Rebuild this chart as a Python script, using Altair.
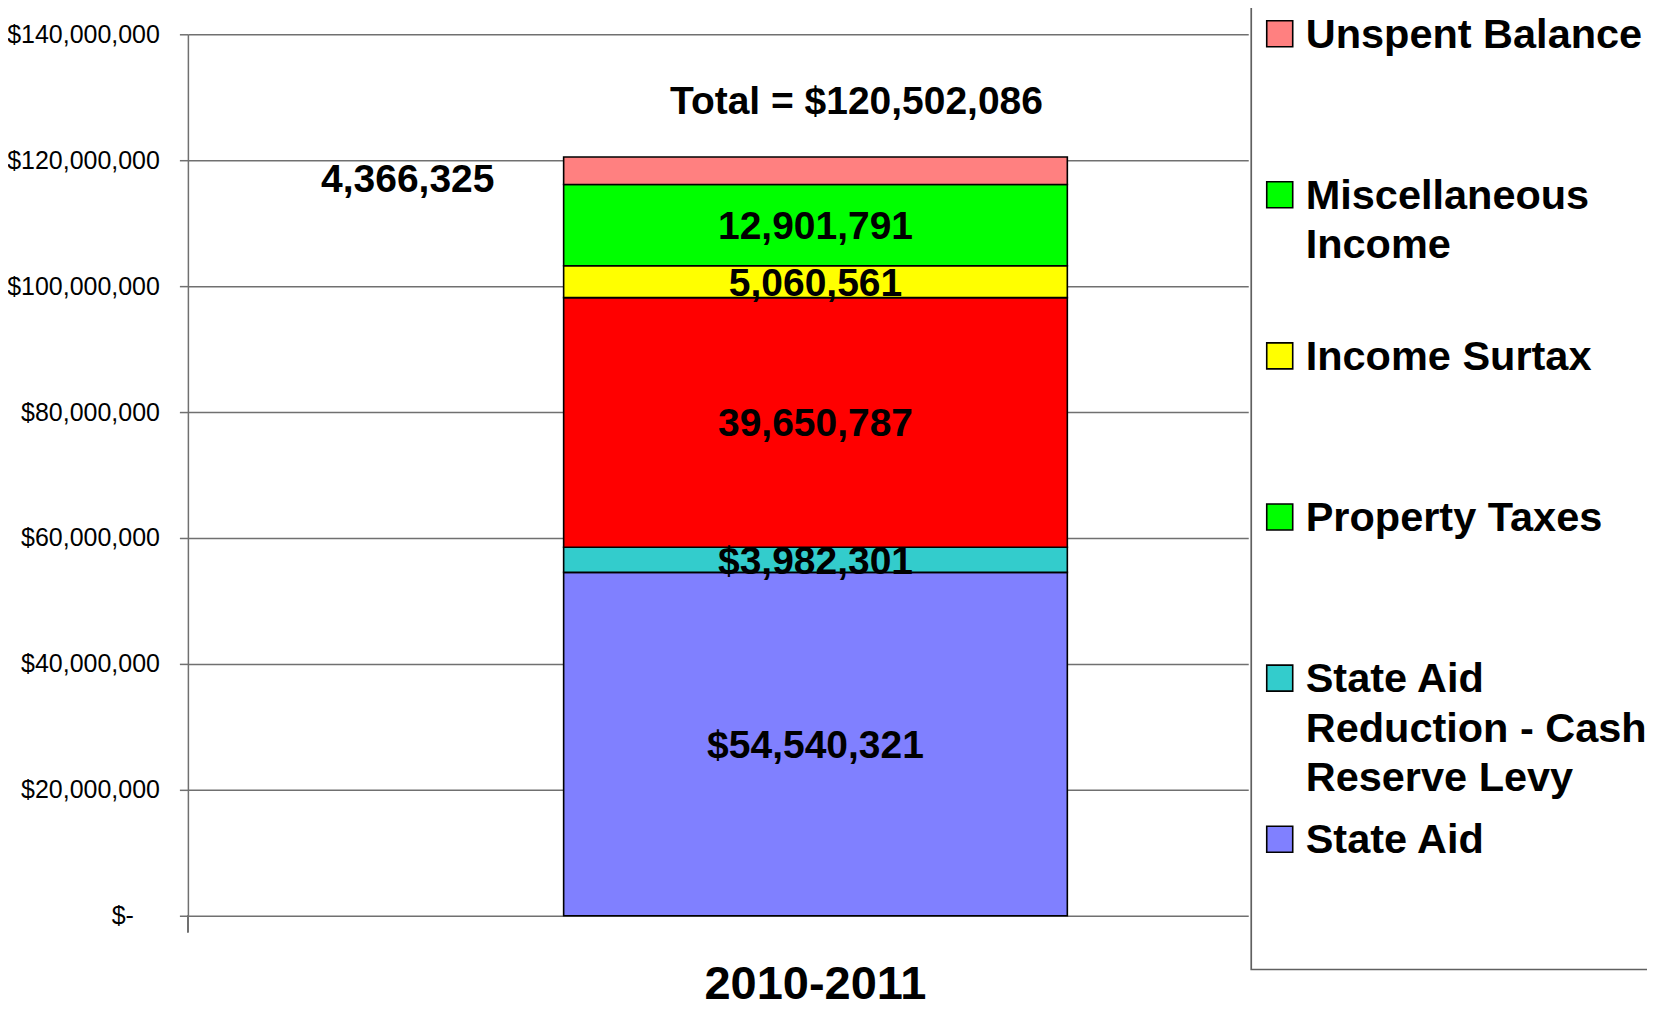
import altair as alt
import pandas as pd

# ---- data (stack order: bottom -> top) ----
year = "2010-2011"
categories = [
    "State Aid",
    "State Aid Reduction - Cash Reserve Levy",
    "Property Taxes",
    "Income Surtax",
    "Miscellaneous Income",
    "Unspent Balance",
]
values = [54540321, 3982301, 39650787, 5060561, 12901791, 4366325]
dollar_flag = [1, 1, 0, 0, 0, 0]
bar_colors = ["#8080FF", "#33CCCC", "#FF0000", "#FFFF00", "#00FF00", "#FF8080"]

# legend (top -> bottom), as drawn in the original
legend_labels = [
    "Unspent Balance",
    "Miscellaneous\nIncome",
    "Income Surtax",
    "Property Taxes",
    "State Aid\nReduction - Cash\nReserve Levy",
    "State Aid",
]
legend_colors = ["#FF8080", "#00FF00", "#FFFF00", "#00FF00", "#33CCCC", "#8080FF"]

y_ticks = [0, 20000000, 40000000, 60000000, 80000000, 100000000, 120000000, 140000000]

FONT = "Liberation Sans"
GRID = "#707070"

df = pd.DataFrame({
    "year": [year] * len(categories),
    "category": categories,
    "value": values,
    "order": list(range(len(categories))),
    "dollar": dollar_flag,
})

x_enc = alt.X(
    "year:N",
    scale=alt.Scale(paddingInner=0, paddingOuter=0.5526, align=0.675),
    axis=alt.Axis(
        title=None, ticks=False, tickSize=0, domain=False, labelAngle=0,
        labelFont=FONT, labelFontSize=47,
        labelFontWeight="bold", labelColor="black", labelBaseline="alphabetic",
        labelPadding=83, labelLimit=0,
    ),
)

y_scale = alt.Scale(domain=[0, 140000000], nice=False, zero=True)

base = alt.Chart(df).transform_stack(
    stack="value", groupby=["year"], as_=["y0", "y1"],
    sort=[alt.SortField("order", order="ascending")],
).transform_calculate(
    mid="(datum.y0 + datum.y1) / 2",
    label="(datum.dollar == 1 ? '$' : '') + format(datum.value, ',')",
)

bars = base.mark_bar(stroke="black", strokeWidth=1.6).encode(
    x=x_enc,
    y=alt.Y(
        "y0:Q", scale=y_scale,
        axis=alt.Axis(
            title=None, values=y_ticks,
            labelExpr="datum.value == 0 ? '$-' : '$' + format(datum.value, ',')",
            labelFont=FONT, labelFontSize=25, labelColor="black",
            labelPadding={"condition": {"test": "datum.value == 0", "value": 46}, "value": 20},
            labelLimit=0, tickSize=8.5, tickColor=GRID, tickWidth=1.5,
            domainColor=GRID, domainWidth=1.5, gridColor=GRID, gridWidth=1.5,
            grid=True,
        ),
    ),
    y2="y1:Q",
    color=alt.Color("category:N", scale=alt.Scale(domain=categories, range=bar_colors), legend=None),
)

seg_labels = base.transform_filter(
    "datum.category != 'Unspent Balance'"
).mark_text(
    font=FONT, fontSize=39, fontWeight="bold", color="black", baseline="middle", align="center", dy=2,
).encode(x="year:N", y="mid:Q", text="label:N")

unspent_label = base.transform_filter(
    "datum.category == 'Unspent Balance'"
).mark_text(
    font=FONT, fontSize=39, fontWeight="bold", color="black", baseline="middle", align="center",
    dx=-408, dy=9,
).encode(x="year:N", y="mid:Q", text="label:N")

total_label = alt.Chart(df).transform_aggregate(
    total="sum(value)", groupby=["year"]
).transform_calculate(
    label="'Total = $' + format(datum.total, ',')"
).mark_text(
    font=FONT, fontSize=39, fontWeight="bold", color="black", baseline="middle", align="center",
    dx=41, dy=-55,
).encode(x="year:N", y="total:Q", text="label:N")

# small extension of the value axis below the category axis
axis_ext = alt.Chart(df).mark_rule(color=GRID, strokeWidth=1.5).encode(
    x=alt.value(0), y=alt.value(882), y2=alt.value(898.4)
)

main = alt.layer(bars, seg_labels, unspent_label, total_label, axis_ext).properties(
    width=1061, height=882
)

# ---- legend panel ----
leg_df = pd.DataFrame({
    "idx": list(range(len(legend_labels))),
    "label": legend_labels,
    "color": legend_colors,
})
leg_y = alt.Y("idx:Q", scale=alt.Scale(domain=[0.003722, 5.475186], reverse=True, nice=False, zero=False), axis=None)

leg_box = alt.Chart(leg_df).transform_filter("datum.idx == 0").mark_rect(
    fill="white", stroke="#606060", strokeWidth=1.7
).encode(x=alt.value(0), x2=alt.value(420), y=alt.value(-32.5), y2=alt.value(935.8))

leg_sym = alt.Chart(leg_df).mark_point(
    shape="square", filled=True, size=676, stroke="black", strokeWidth=1.6, opacity=1
).encode(x=alt.value(28.5), y=leg_y, fill=alt.Fill("color:N", scale=None))

leg_txt = alt.Chart(leg_df).mark_text(
    align="left", baseline="middle", font=FONT, fontSize=41.5, fontWeight="bold",
    color="black", lineBreak="\n", lineHeight=49.5, dy=2,
).encode(x=alt.value(54.5), y=leg_y, text="label:N")

legend = alt.layer(leg_box, leg_sym, leg_txt).properties(width=420, height=882)

chart = alt.hconcat(main, legend, spacing=0).properties(
    padding={"left": -2, "top": -8, "right": -26, "bottom": -4.5},
    background="white",
).configure_view(stroke="transparent")

chart.save("out.html", embed_options={"renderer": "svg", "actions": False})
